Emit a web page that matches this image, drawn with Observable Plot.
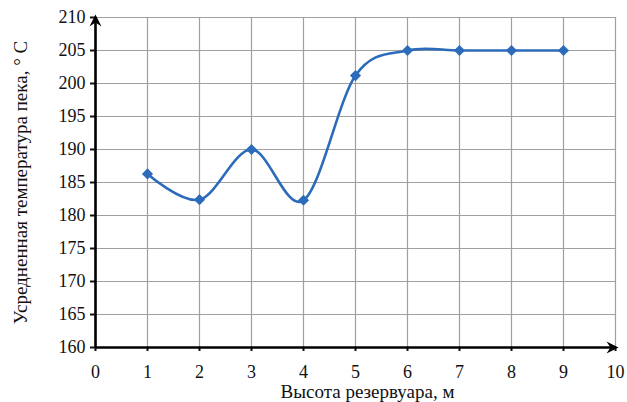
<!DOCTYPE html>
<html><head><meta charset="utf-8">
<script src="https://cdn.jsdelivr.net/npm/d3@7"></script>
<script src="https://cdn.jsdelivr.net/npm/@observablehq/plot@0.6"></script>
<style>
body{margin:0;background:#fff}
#chart svg, #chart svg text{font-family:"Liberation Serif","DejaVu Serif",serif !important}
#chart g[aria-label$="tick label"]{font-size:18px !important}
</style>
</head><body><div id="chart"></div>
<script>
const heights = [1, 2, 3, 4, 5, 6, 7, 8, 9];
const temps = [186.3, 182.4, 190.0, 182.3, 201.2, 205, 205, 205, 205];
const xTicks = [0,1,2,3,4,5,6,7,8,9,10];
const yTicks = [160,165,170,175,180,185,190,195,200,205,210];
const xLabel = "Высота резервуара, м";
const yLabel = "Усредненная температура пека, ° С";
const data = heights.map((h, i) => ({h, t: temps[i]}));
const blue = "#2c6bb9";
const serif = "Liberation Serif";
const stealth = {
  draw(ctx) {
    ctx.moveTo(3, 0);
    ctx.lineTo(-9, -6);
    ctx.lineTo(-5, 0);
    ctx.lineTo(-9, 6);
    ctx.closePath();
  }
};
const arrowHeads = [{x: 10, y: 160, a: 0}, {x: 0, y: 210, a: -90}];
const chart = Plot.plot({
  width: 627, height: 402,
  marginLeft: 95, marginRight: 12, marginTop: 17, marginBottom: 55,
  style: {fontFamily: serif, fontSize: "18px", color: "#111", background: "#fff"},
  x: {domain: [0, 10]},
  y: {domain: [160, 210]},
  marks: [
    Plot.gridX(xTicks, {stroke: "#a0a0a0", strokeOpacity: 1, strokeWidth: 1.2}),
    Plot.gridY(yTicks, {stroke: "#a0a0a0", strokeOpacity: 1, strokeWidth: 1.2}),
    Plot.axisX(xTicks, {tickSize: 4, tickPadding: 14, strokeWidth: 2, label: null, fontSize: 18, fontFamily: serif}),
    Plot.axisY(yTicks, {tickSize: 5, tickPadding: 5, strokeWidth: 2, label: null, fontSize: 18, fontFamily: serif}),
    Plot.text([xLabel], {frameAnchor: "bottom", dy: 50, dx: 12, fontSize: 19, lineAnchor: "bottom", fontFamily: serif}),
    Plot.text([yLabel], {frameAnchor: "left", dx: -75, rotate: -90, textAnchor: "middle", fontSize: 19, fontFamily: serif}),
    Plot.ruleY([160], {x1: 0, x2: 10, stroke: "#000", strokeWidth: 2.6}),
    Plot.ruleX([0], {y1: 160, y2: 210, stroke: "#000", strokeWidth: 2.6}),
    Plot.dot(arrowHeads, {x: "x", y: "y", rotate: "a", symbol: stealth, fill: "#000", stroke: "none", r: 5}),
    Plot.line(data, {x: "h", y: "t", stroke: blue, strokeWidth: 2.6, curve: d3.curveCardinal.tension(0)}),
    Plot.dot(data, {x: "h", y: "t", symbol: "diamond2", r: 5, fill: blue, stroke: "none"})
  ]
});
document.getElementById("chart").appendChild(chart);
</script>
</body></html>
